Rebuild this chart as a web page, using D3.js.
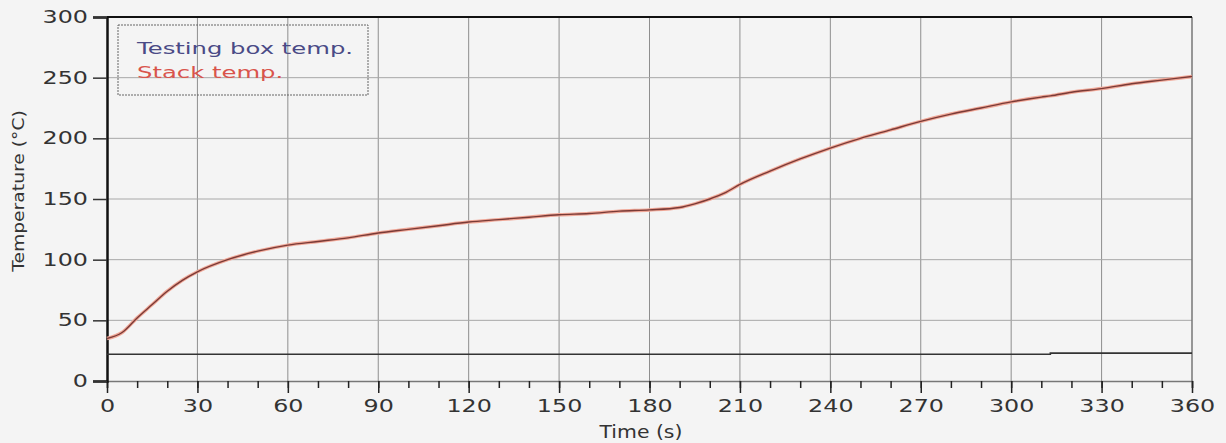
<script src="https://d3js.org/d3.v7.min.js"></script>

<style>
  body { margin: 0; background: #f4f4f4; }
  text { font-family: "DejaVu Sans", Verdana, sans-serif; }
</style>

<div id="my_dataviz"></div>

<script>

// time (s)
var time = [0, 5, 10, 15, 20, 25, 30, 40, 50, 60, 70, 80, 90, 100, 110, 120, 130, 140, 150,
  160, 170, 180, 190, 195, 200, 205, 210, 220, 230, 240, 250, 260, 270, 280, 290, 300,
  310, 313, 320, 330, 340, 350, 360];
var stackTemp = [35, 40, 52, 63, 74, 83, 90, 100, 107, 112, 115, 118, 122, 125, 128, 131, 133, 135, 137,
  138, 140, 141, 143, 146, 150, 155, 162, 173, 183, 192, 200, 207, 214, 220, 225, 230,
  234, 235, 238, 241, 245, 248, 251];
var boxTemp = [22, 22, 22, 22, 22, 22, 22, 22, 22, 22, 22, 22, 22, 22, 22, 22, 22, 22, 22,
  22, 22, 22, 22, 22, 22, 22, 22, 22, 22, 22, 22, 22, 22, 22, 22, 22,
  22, 23, 23, 23, 23, 23, 23];
var xTicks = [0, 30, 60, 90, 120, 150, 180, 210, 240, 270, 300, 330, 360];
var yTicks = [0, 50, 100, 150, 200, 250, 300];
var seriesNames = ["Testing box temp.", "Stack temp."];

var margin = {top: 17, right: 34, bottom: 62, left: 107},
  width = 1226 - margin.left - margin.right,
  height = 443 - margin.top - margin.bottom;

// the original font is a wide one, so texts are stretched sideways
var wide = 1.4;

var svg = d3.select("#my_dataviz")
.append("svg")
  .attr("width", width + margin.left + margin.right)
  .attr("height", height + margin.top + margin.bottom)
.append("g")
  .attr("transform", "translate(" + margin.left + "," + margin.top + ")");

var x = d3.scaleLinear().domain([0, 360]).range([0, width]);
var y = d3.scaleLinear().domain([0, 300]).range([height, 0]);

// gridlines
svg.selectAll("vgrid")
  .data(xTicks.slice(1, -1))
  .enter()
  .append("line")
    .attr("x1", function(d) { return x(d); })
    .attr("x2", function(d) { return x(d); })
    .attr("y1", 0)
    .attr("y2", height)
    .attr("stroke", "#8e8e8e")
    .attr("stroke-width", 1);

svg.selectAll("hgrid")
  .data(yTicks.slice(1, -1))
  .enter()
  .append("line")
    .attr("x1", 0)
    .attr("x2", width)
    .attr("y1", function(d) { return y(d); })
    .attr("y2", function(d) { return y(d); })
    .attr("stroke", "#a8a8a8")
    .attr("stroke-width", 1);

// right border (gray) and top border (black)
svg.append("line")
  .attr("x1", width).attr("x2", width)
  .attr("y1", 0).attr("y2", height)
  .attr("stroke", "#777").attr("stroke-width", 1.5);
svg.append("line")
  .attr("x1", 0).attr("x2", width)
  .attr("y1", 0).attr("y2", 0)
  .attr("stroke", "#111").attr("stroke-width", 2);

// X axis: minor ticks every 10
var xAxisMinor = svg.append("g")
  .attr("transform", "translate(0," + height + ")")
  .call(d3.axisBottom(x).tickValues(d3.range(0, 361, 10)).tickSize(7).tickFormat(""));
xAxisMinor.select(".domain").attr("stroke", "#777").attr("stroke-width", 1.5);
xAxisMinor.selectAll(".tick line").attr("stroke", "#222").attr("stroke-width", 1.5);

var xAxis = svg.append("g")
  .attr("transform", "translate(0," + height + ")")
  .call(d3.axisBottom(x).tickValues(xTicks).tickSize(12).tickPadding(7));
xAxis.select(".domain").remove();
xAxis.selectAll(".tick line").attr("stroke", "#222").attr("stroke-width", 1.5);
xAxis.selectAll(".tick text")
  .attr("font-size", 17)
  .attr("fill", "#333")
  .attr("transform", "scale(" + wide + ",1)")
  .style("font-family", "DejaVu Sans, Verdana, sans-serif");

// Y axis
var yAxis = svg.append("g")
  .call(d3.axisLeft(y).tickValues(yTicks).tickSize(14).tickPadding(5));
yAxis.select(".domain").attr("stroke", "#111").attr("stroke-width", 2.5);
yAxis.selectAll(".tick line").attr("stroke", "#333").attr("stroke-width", 1.5);
yAxis.selectAll(".tick text")
  .attr("font-size", 17)
  .attr("fill", "#333")
  .attr("x", -19 / wide)
  .attr("transform", "scale(" + wide + ",1)")
  .style("font-family", "DejaVu Sans, Verdana, sans-serif");

// lines
var boxLine = d3.line()
  .x(function(d, i) { return x(time[i]); })
  .y(function(d) { return y(d); })
  .curve(d3.curveStepAfter);
svg.append("path")
  .datum(boxTemp)
  .attr("fill", "none")
  .attr("stroke", "#333")
  .attr("stroke-width", 1.6)
  .attr("d", boxLine);

var stackLine = d3.line()
  .x(function(d, i) { return x(time[i]); })
  .y(function(d) { return y(d); })
  .curve(d3.curveMonotoneX);
svg.append("path")
  .datum(stackTemp)
  .attr("fill", "none")
  .attr("stroke", "#f0a898")
  .attr("stroke-width", 3.5)
  .attr("d", stackLine);
svg.append("path")
  .datum(stackTemp)
  .attr("fill", "none")
  .attr("stroke", "#7a3a36")
  .attr("stroke-width", 1.4)
  .attr("d", stackLine);

// legend
svg.append("rect")
  .attr("x", 11).attr("y", 8)
  .attr("width", 250).attr("height", 70)
  .attr("fill", "none")
  .attr("stroke", "#666")
  .attr("stroke-width", 1)
  .attr("stroke-dasharray", "2,1");
svg.selectAll("legtext")
  .data(seriesNames)
  .enter()
  .append("text")
    .attr("x", 30 / 1.62)
    .attr("y", function(d, i) { return 37 + i * 24; })
    .attr("transform", "scale(1.62,1)")
    .attr("font-size", 15)
    .attr("fill", function(d, i) { return i == 0 ? "#4a4a86" : "#d9544c"; })
    .text(function(d) { return d; });

// axis titles
svg.append("text")
  .attr("x", 534 / 1.2)
  .attr("y", height + 57)
  .attr("transform", "scale(1.2,1)")
  .attr("text-anchor", "middle")
  .attr("font-size", 17)
  .attr("fill", "#333")
  .text("Time (s)");

svg.append("text")
  .attr("transform", "translate(" + (-83) + "," + (height / 2 - 8) + ") rotate(-90) scale(1.25,1)")
  .attr("text-anchor", "middle")
  .attr("font-size", 15)
  .attr("fill", "#333")
  .text("Temperature (°C)");

</script>
